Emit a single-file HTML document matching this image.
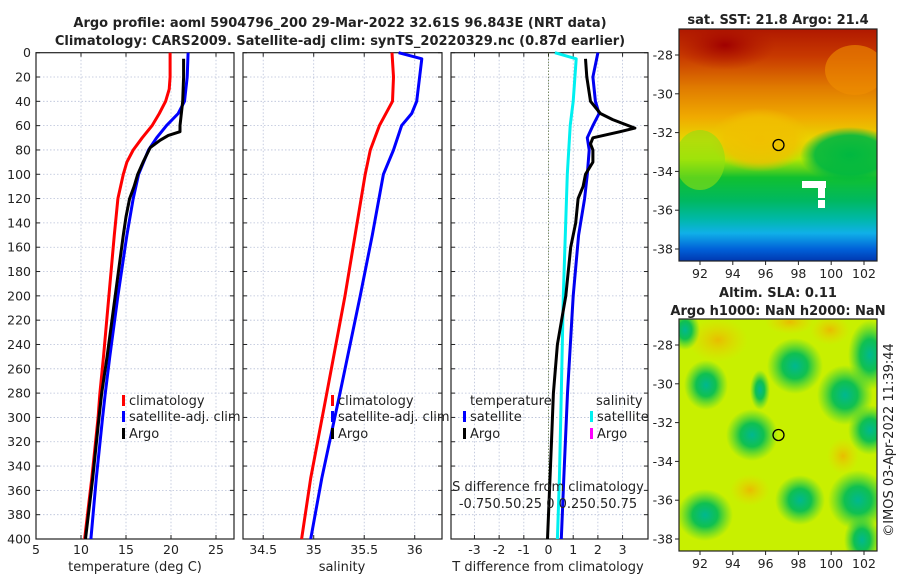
<!DOCTYPE html>
<html><head><meta charset="utf-8"><style>
body{margin:0;background:#fff;width:900px;height:580px;overflow:hidden;font-family:"Liberation Sans","DejaVu Sans",sans-serif}
svg text{font-family:"DejaVu Sans","Liberation Sans",sans-serif;fill:#222}
</style></head><body>
<svg id="fig" width="900" height="580" viewBox="0 0 900 580" xmlns="http://www.w3.org/2000/svg">
<defs>
<linearGradient id="sstg" x1="0" y1="0" x2="0" y2="1">
<stop offset="0" stop-color="#b01800"/><stop offset="0.12" stop-color="#c83a00"/><stop offset="0.25" stop-color="#e07a00"/><stop offset="0.38" stop-color="#f0aa00"/><stop offset="0.48" stop-color="#e8d800"/><stop offset="0.56" stop-color="#b8e800"/><stop offset="0.64" stop-color="#10c030"/><stop offset="0.74" stop-color="#00b860"/><stop offset="0.82" stop-color="#00b8a8"/><stop offset="0.88" stop-color="#10b0e8"/><stop offset="0.95" stop-color="#0060d8"/><stop offset="1" stop-color="#0038b0"/>
</linearGradient>
<radialGradient id="gblob"><stop offset="0" stop-color="#00b890"/><stop offset="0.45" stop-color="#10c050"/><stop offset="1" stop-color="#30d040" stop-opacity="0"/></radialGradient>
<radialGradient id="oblob"><stop offset="0" stop-color="#f0b000"/><stop offset="1" stop-color="#f0d000" stop-opacity="0"/></radialGradient>
<radialGradient id="redblob"><stop offset="0" stop-color="#a00000"/><stop offset="1" stop-color="#b01800" stop-opacity="0"/></radialGradient>
<radialGradient id="yblob"><stop offset="0" stop-color="#f0c000"/><stop offset="0.7" stop-color="#f0c000" stop-opacity="0.8"/><stop offset="1" stop-color="#f0c000" stop-opacity="0"/></radialGradient>
<radialGradient id="grblob"><stop offset="0" stop-color="#00b840"/><stop offset="0.7" stop-color="#00b840" stop-opacity="0.9"/><stop offset="1" stop-color="#00b840" stop-opacity="0"/></radialGradient>
<clipPath id="c1"><rect x="679" y="29" width="198" height="232"/></clipPath>
<clipPath id="c2"><rect x="679" y="319" width="198" height="232"/></clipPath>
</defs>
<text x="340" y="27" text-anchor="middle" font-size="13" font-weight="bold">Argo profile: aoml 5904796_200 29-Mar-2022 32.61S 96.843E (NRT data)</text>
<text x="340" y="45" text-anchor="middle" font-size="13" font-weight="bold">Climatology: CARS2009. Satellite-adj clim: synTS_20220329.nc (0.87d earlier)</text>
<g id="plots"></g>
</svg>
<script>
// ---- data ----
const depthTicks=[0,20,40,60,80,100,120,140,160,180,200,220,240,260,280,300,320,340,360,380,400];
const tTicks=[5,10,15,20,25];
const sTicks=[34.5,35,35.5,36];
const dTicks=[-3,-2,-1,0,1,2,3];
const climTDepth=[0,20,30,40,50,60,70,80,90,100,120,150,200,250,280,300,350,400];
const climT=[19.9,19.9,19.8,19.4,18.7,17.9,16.8,15.8,15.1,14.7,14.1,13.7,13.1,12.5,12.1,11.9,11.2,10.4];
const satTDepth=[0,20,40,50,60,70,80,100,120,150,200,250,280,300,350,400];
const satT=[21.9,21.8,21.5,20.8,19.5,18.4,17.5,16.4,15.8,15.1,14.1,13.2,12.7,12.4,11.7,11.1];
const argoTDepth=[5,20,40,60,65,68,72,78,90,100,110,120,135,150,200,250,280,300,350,400];
const argoT=[21.4,21.4,21.3,21.0,21.0,19.7,18.8,17.7,16.9,16.3,15.9,15.4,15.0,14.7,13.8,12.9,12.3,12.0,11.3,10.5];
const climSDepth=[0,20,40,60,80,100,150,200,280,350,400];
const climS=[35.775,35.79,35.78,35.65,35.56,35.51,35.41,35.31,35.13,34.97,34.88];
const satSDepth=[0,5,40,50,60,80,100,150,200,280,350,400];
const satS=[35.84,36.07,36.02,35.97,35.87,35.79,35.69,35.58,35.46,35.26,35.08,34.97];
const dSatSDepth=[0,5,40,60,100,150,200,280,350,400];
const dSatS=[0.065,0.28,0.25,0.22,0.19,0.17,0.15,0.13,0.11,0.09];
const dSatTDepth=[0,20,40,50,60,70,80,100,120,150,200,280,350,400];
const dSatT=[2.0,1.8,1.9,2.05,1.8,1.57,1.65,1.57,1.46,1.22,1.0,0.77,0.62,0.52];
const dArgoTDepth=[5,20,40,50,55,62,65,70,75,80,90,100,110,120,140,150,160,200,240,280,320,360,400];
const dArgoT=[1.5,1.55,1.7,2.1,2.6,3.5,2.9,1.8,1.7,1.8,1.8,1.5,1.4,1.2,1.1,1.0,0.9,0.7,0.36,0.2,0.12,0.04,-0.04];
// ---- drawing ----
const NS='http://www.w3.org/2000/svg';
const G=document.getElementById('plots');
function mk(tag,attrs,parent){const e=document.createElementNS(NS,tag);for(const k in attrs)e.setAttribute(k,attrs[k]);(parent||G).appendChild(e);return e;}
const top0=52.7,bot=539;
const yS=d=>top0+(bot-top0)*d/400;
function panel(x0,x1,vmin,vmax,ticks,tickLabel,name,showY){
  const xs=v=>x0+(x1-x0)*(v-vmin)/(vmax-vmin);
  const g=mk('g',{});
  
  
  mk('rect',{x:x0,y:top0,width:x1-x0,height:bot-top0,fill:'#fff'},g);
  depthTicks.forEach(d=>{
    if(d>0&&d<400){const l=mk('line',{x1:x0,x2:x1,y1:yS(d),y2:yS(d),stroke:'#b8c0d8','stroke-width':0.8,'stroke-dasharray':'1.5,2'},g);
    }
    mk('line',{x1:x0,x2:x0+4,y1:yS(d),y2:yS(d),stroke:'#222'},g);
    mk('line',{x1:x1-4,x2:x1,y1:yS(d),y2:yS(d),stroke:'#222'},g);
    if(showY){const t=mk('text',{x:x0-5,y:yS(d)+4.5,'text-anchor':'end','font-size':12.5},g);t.textContent=d;
      }
  });
  ticks.forEach((v,i)=>{
    const X=xs(v);
    mk('line',{x1:X,x2:X,y1:top0,y2:bot,stroke:'#b8c0d8','stroke-width':0.8,'stroke-dasharray':'1.5,2'},g);
    mk('line',{x1:X,x2:X,y1:bot,y2:bot-4,stroke:'#222'},g);
    mk('line',{x1:X,x2:X,y1:top0,y2:top0+4,stroke:'#222'},g);
    const t=mk('text',{x:X,y:554,'text-anchor':'middle','font-size':12.5},g);t.textContent=tickLabel?tickLabel[i]:v;
    
  });
  mk('rect',{x:x0,y:top0,width:x1-x0,height:bot-top0,fill:'none',stroke:'#222','stroke-width':1.2},g);
  return {g,xs};
}
function line(p,depths,vals,color,name,w,scale){
  const pts=depths.map((d,i)=>p.xs(vals[i]*(scale||1)).toFixed(1)+','+yS(d).toFixed(1)).join(' ');
  const l=mk('polyline',{points:pts,fill:'none',stroke:color,'stroke-width':w||3,'stroke-linejoin':'round'},p.g);
  
  
}
function txt(x,y,s,size,name,anchor,parent){const t=mk('text',{x:x,y:y,'font-size':size||13,'text-anchor':anchor||'start'},parent);t.textContent=s;
  return t;}
function legItem(x,y,color,label,parent){
  mk('rect',{x:x,y:y-10,width:3,height:11,fill:color},parent);
  txt(x+7,y,label,13,'legend-entry','start',parent);
}
// panel 1
const p1=panel(36,234,5,27,tTicks,null,'temperature-panel',true);
line(p1,climTDepth,climT,'#f00','climatology-temperature-line');
line(p1,satTDepth,satT,'#00f','satellite-temperature-line');
line(p1,argoTDepth,argoT,'#000','argo-temperature-line');
legItem(122,405,'#f00','climatology',p1.g);legItem(122,421,'#00f','satellite-adj. clim',p1.g);legItem(122,438,'#000','Argo',p1.g);
txt(135,571,'temperature (deg C)',13,'x-axis-title','middle');
// panel 2
const p2=panel(243,442,34.30,36.27,sTicks,null,'salinity-panel',false);
line(p2,climSDepth,climS,'#f00','climatology-salinity-line');
line(p2,satSDepth,satS,'#00f','satellite-salinity-line');
legItem(331,405,'#f00','climatology',p2.g);legItem(331,421,'#00f','satellite-adj. clim',p2.g);legItem(331,438,'#000','Argo',p2.g);
txt(342,571,'salinity',13,'x-axis-title','middle');
// panel 3
const p3=panel(451,648,-3.95,4.03,dTicks,null,'difference-panel',false);
mk('line',{x1:p3.xs(0),x2:p3.xs(0),y1:top0,y2:bot,stroke:'#556b2f','stroke-width':1,'stroke-dasharray':'1,2'},p3.g);
line(p3,dSatSDepth,dSatS,'#00f0f0','satellite-salinity-diff-line',3,4);
line(p3,dSatTDepth,dSatT,'#0000f0','satellite-temperature-diff-line');
line(p3,dArgoTDepth,dArgoT,'#000','argo-temperature-diff-line');
txt(470,405,'temperature',13,'legend-title');txt(596,405,'salinity',13,'legend-title');
legItem(463,421,'#00f','satellite',p3.g);legItem(463,438,'#000','Argo',p3.g);
legItem(590,421,'#00f0f0','satellite',p3.g);legItem(590,438,'#f0f','Argo',p3.g);
txt(548,491,'S difference from climatology',13,'secondary-axis-title','middle');
txt(548,508,'-0.750.50.25 0 0.250.50.75',13,'secondary-axis-ticks','middle');
txt(548,571,'T difference from climatology',13,'x-axis-title','middle');
// maps
const mx=v=>679+(v-90.72)*16.4;
function mapAxes(y0,lat0px,name){
  const g=mk('g',{});
  [92,94,96,98,100,102].forEach(v=>{mk('line',{x1:mx(v),x2:mx(v),y1:y0+232,y2:y0+236,stroke:'#222'},g);txt(mx(v),y0+249,v,12.5,'lon-tick-label','middle',g);});
  [-28,-30,-32,-34,-36,-38].forEach(v=>{const Y=lat0px+(-28-v)*19.4;mk('line',{x1:675,x2:679,y1:Y,y2:Y,stroke:'#222'},g);txt(673,Y+4.5,v,12.5,'lat-tick-label','end',g);});
  return g;
}
// SST map
const m1=mk('g',{'clip-path':'url(#c1)'});
mk('rect',{x:679,y:29,width:198,height:232,fill:'url(#sstg)'},m1);
mk('ellipse',{cx:725,cy:45,rx:50,ry:25,fill:'url(#redblob)'},m1);
mk('ellipse',{cx:760,cy:140,rx:50,ry:32,fill:'url(#yblob)'},m1);
mk('ellipse',{cx:850,cy:155,rx:50,ry:28,fill:'url(#grblob)'},m1);
mk('ellipse',{cx:700,cy:160,rx:25,ry:30,fill:'#90e010',opacity:0.6},m1);
mk('ellipse',{cx:855,cy:70,rx:30,ry:25,fill:'#f09000',opacity:0.6},m1);
mk('rect',{x:802,y:181,width:24,height:7,fill:'#fff'},m1);
mk('rect',{x:818,y:188,width:7,height:10,fill:'#fff'},m1);
mk('rect',{x:818,y:200,width:7,height:8,fill:'#fff'},m1);
mk('rect',{x:679,y:29,width:198,height:232,fill:'none',stroke:'#222','stroke-width':1.2});
mk('ellipse',{cx:778.5,cy:145,rx:5.5,ry:5.5,fill:'none',stroke:'#000','stroke-width':1.3});
mapAxes(29,55,'sst-map-axes');
txt(778,24,'sat. SST: 21.8 Argo: 21.4',13,'sst-map-title','middle').setAttribute('font-weight','bold');
// SLA map
const m2=mk('g',{'clip-path':'url(#c2)'});
mk('rect',{x:679,y:319,width:198,height:232,fill:'#c8f000'},m2);
[[718,340,30,22],[790,322,25,12],[843,456,16,18],[750,490,20,16],[830,330,20,15]].forEach(b=>mk('ellipse',{cx:b[0],cy:b[1],rx:b[2],ry:b[3],fill:'url(#oblob)',opacity:0.8},m2));
[[795,366,28,28],[706,385,22,25],[752,435,26,26],[845,395,28,30],[870,430,22,25],[800,500,25,25],[858,500,30,30],[705,515,28,26],[862,540,18,25],[870,355,22,35],[685,330,15,20],[760,390,10,20]].forEach(b=>mk('ellipse',{cx:b[0],cy:b[1],rx:b[2],ry:b[3],fill:'url(#gblob)'},m2));
mk('rect',{x:679,y:319,width:198,height:232,fill:'none',stroke:'#222','stroke-width':1.2});
mk('ellipse',{cx:778.5,cy:435,rx:5.5,ry:5.5,fill:'none',stroke:'#000','stroke-width':1.3});
mapAxes(319,345,'sla-map-axes');
txt(778,297,'Altim. SLA: 0.11',13,'sla-map-title','middle').setAttribute('font-weight','bold');
txt(778,315,'Argo h1000: NaN h2000: NaN',13,'sla-map-subtitle','middle').setAttribute('font-weight','bold');
const cr=txt(0,0,'©IMOS 03-Apr-2022 11:39:44',13,'copyright-timestamp','middle');
cr.setAttribute('transform','translate(893,440) rotate(-90)');
</script>
</body></html>
